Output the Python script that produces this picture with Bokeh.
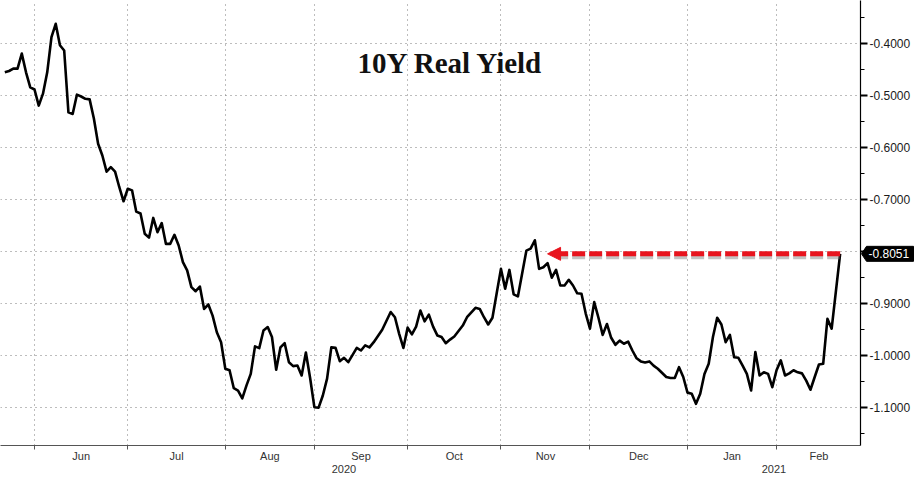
import numpy as np
from bokeh.plotting import figure
from bokeh.models import (Range1d, LinearAxis, FixedTicker, PrintfTickFormatter,
                          Label, Arrow, NormalHead)
from bokeh.core.properties import value
from bokeh.embed import file_html
from bokeh.resources import INLINE

# ---------------- data ----------------
dates = [
    "2020-05-21", "2020-05-22", "2020-05-25", "2020-05-26", "2020-05-27", "2020-05-28", "2020-05-29",
    "2020-06-01", "2020-06-02", "2020-06-03", "2020-06-04", "2020-06-05", "2020-06-08", "2020-06-09",
    "2020-06-10", "2020-06-11", "2020-06-12", "2020-06-15", "2020-06-16", "2020-06-17", "2020-06-18",
    "2020-06-19", "2020-06-22", "2020-06-23", "2020-06-24", "2020-06-25", "2020-06-26", "2020-06-29",
    "2020-06-30", "2020-07-01", "2020-07-02", "2020-07-03", "2020-07-06", "2020-07-07", "2020-07-08",
    "2020-07-09", "2020-07-10", "2020-07-13", "2020-07-14", "2020-07-15", "2020-07-16", "2020-07-17",
    "2020-07-20", "2020-07-21", "2020-07-22", "2020-07-23", "2020-07-24", "2020-07-27", "2020-07-28",
    "2020-07-29", "2020-07-30", "2020-07-31", "2020-08-03", "2020-08-04", "2020-08-05", "2020-08-06",
    "2020-08-07", "2020-08-10", "2020-08-11", "2020-08-12", "2020-08-13", "2020-08-14", "2020-08-17",
    "2020-08-18", "2020-08-19", "2020-08-20", "2020-08-21", "2020-08-24", "2020-08-25", "2020-08-26",
    "2020-08-27", "2020-08-28", "2020-08-31", "2020-09-01", "2020-09-02", "2020-09-03", "2020-09-04",
    "2020-09-07", "2020-09-08", "2020-09-09", "2020-09-10", "2020-09-11", "2020-09-15", "2020-09-16",
    "2020-09-17", "2020-09-18", "2020-09-21", "2020-09-23", "2020-09-25", "2020-09-28", "2020-09-29",
    "2020-09-30", "2020-10-01", "2020-10-02", "2020-10-05", "2020-10-06", "2020-10-07", "2020-10-08",
    "2020-10-09", "2020-10-12", "2020-10-13", "2020-10-14", "2020-10-15", "2020-10-16", "2020-10-20",
    "2020-10-21", "2020-10-23", "2020-10-26", "2020-10-27", "2020-10-28", "2020-10-29", "2020-10-30",
    "2020-11-02", "2020-11-03", "2020-11-04", "2020-11-05", "2020-11-06", "2020-11-10", "2020-11-11",
    "2020-11-12", "2020-11-13", "2020-11-16", "2020-11-17", "2020-11-18", "2020-11-19", "2020-11-20",
    "2020-11-23", "2020-11-24", "2020-11-25", "2020-11-26", "2020-11-27", "2020-11-30", "2020-12-01",
    "2020-12-02", "2020-12-03", "2020-12-04", "2020-12-07", "2020-12-08", "2020-12-09", "2020-12-10",
    "2020-12-11", "2020-12-14", "2020-12-15", "2020-12-16", "2020-12-17", "2020-12-18", "2020-12-21",
    "2020-12-22", "2020-12-23", "2020-12-25", "2020-12-28", "2020-12-29", "2020-12-30", "2020-12-31",
    "2021-01-01", "2021-01-04", "2021-01-05", "2021-01-06", "2021-01-07", "2021-01-08", "2021-01-11",
    "2021-01-12", "2021-01-13", "2021-01-14", "2021-01-15", "2021-01-18", "2021-01-19", "2021-01-20",
    "2021-01-21", "2021-01-22", "2021-01-25", "2021-01-26", "2021-01-27", "2021-01-28", "2021-01-29",
    "2021-02-01", "2021-02-02", "2021-02-03", "2021-02-04", "2021-02-05", "2021-02-08", "2021-02-09",
    "2021-02-10", "2021-02-11", "2021-02-12", "2021-02-15", "2021-02-16", "2021-02-17", "2021-02-18",
    "2021-02-22",
]
real_yield = [
    -0.456, -0.4535, -0.449, -0.449, -0.420, -0.456, -0.485,
    -0.489, -0.520, -0.497, -0.456, -0.3885, -0.3627, -0.404,
    -0.414, -0.533, -0.536, -0.499, -0.5025, -0.507, -0.508,
    -0.545, -0.5935, -0.616, -0.647, -0.6385, -0.647, -0.677,
    -0.704, -0.680, -0.683, -0.724, -0.7275, -0.7665, -0.774,
    -0.736, -0.7635, -0.746, -0.786, -0.786, -0.7685, -0.789,
    -0.821, -0.837, -0.869, -0.877, -0.868, -0.911, -0.9025,
    -0.924, -0.956, -0.975, -1.026, -1.029, -1.0635, -1.068,
    -1.083, -1.058, -1.036, -0.983, -0.9865, -0.9525, -0.946,
    -0.965, -1.028, -0.985, -0.977, -1.0135, -1.021, -1.020,
    -1.039, -0.995, -1.044, -1.100, -1.101, -1.0775, -1.045,
    -0.985, -0.986, -1.0115, -1.005, -1.0135, -0.986, -0.991,
    -0.981, -0.985, -0.975, -0.951, -0.917, -0.927, -0.959,
    -0.986, -0.947, -0.960, -0.945, -0.914, -0.935, -0.922,
    -0.945, -0.962, -0.965, -0.977, -0.970, -0.964, -0.943,
    -0.927, -0.909, -0.911, -0.927, -0.941, -0.928, -0.881,
    -0.834, -0.872, -0.836, -0.883, -0.887, -0.799, -0.795,
    -0.779, -0.834, -0.831, -0.823, -0.851, -0.836, -0.866,
    -0.866, -0.855, -0.866, -0.881, -0.882, -0.920, -0.949,
    -0.898, -0.928, -0.961, -0.940, -0.9665, -0.980, -0.972,
    -0.978, -0.974, -0.991, -1.006, -1.012, -1.014, -1.012,
    -1.020, -1.026, -1.042, -1.044, -1.044, -1.023, -1.042,
    -1.072, -1.074, -1.0935, -1.074, -1.036, -1.0165, -0.965,
    -0.928, -0.941, -0.975, -0.961, -1.004, -1.005, -1.020,
    -1.036, -1.068, -0.994, -1.039, -1.033, -1.036, -1.0615,
    -1.029, -1.010, -1.039, -1.035, -1.029, -1.033, -1.035,
    -1.049, -1.0665, -1.042, -1.018, -1.0165, -0.930, -0.949,
    -0.8051,
]
month_starts = ["2020-06-01", "2020-07-01", "2020-08-01", "2020-09-01", "2020-10-01",
                "2020-11-01", "2020-12-01", "2021-01-01", "2021-02-01", "2021-03-01"]
month_labels = ["Jun", "Jul", "Aug", "Sep", "Oct", "Nov", "Dec", "Jan", "Feb"]
year_labels = ["2020", "2021"]
year_break = "2021-01-01"
y_ticks = [-1.1, -1.0, -0.9, -0.8, -0.7, -0.6, -0.5, -0.4]
y_minor_ticks = [-1.15, -1.05, -0.95, -0.85, -0.75, -0.65, -0.55, -0.45, -0.35]
arrow_tip_date = "2020-11-17"
title_text = "10Y Real Yield"

# ---------------- trading-day axis ----------------
origin = "2020-06-01"
def bday(d):
    return np.busday_count(origin, np.array(d, dtype="datetime64[D]"))

x = bday(dates).astype(float)
bounds = bday(month_starts).astype(float)
mids = [(bounds[i] + bounds[i + 1]) / 2.0 for i in range(len(month_labels))]

FW, FH = 860, 445
X0, X1 = -8.02, 194.8
Y0, Y1 = -1.1737, -0.3179
ppx = FW / (X1 - X0)
ppy = FH / (Y1 - Y0)
brk = float(bday(year_break))
year_pos = [(X0 + brk) / 2.0, (brk + X1) / 2.0]

p = figure(frame_width=FW, frame_height=FH, x_range=Range1d(X0, X1), y_range=Range1d(Y0, Y1),
           y_axis_location="right", toolbar_location=None, output_backend="svg",
           min_border=0, min_border_right=56, title=None, outline_line_color=None,
           background_fill_color="white", border_fill_color="white")

GRID = "#7a7a7a"
last = real_yield[-1]

yax = p.yaxis[0]
yax.ticker = FixedTicker(ticks=y_ticks, minor_ticks=y_minor_ticks)
yax.formatter = PrintfTickFormatter(format="%.4f")
yax.major_label_overrides = {-0.8: ""}
yax.major_tick_out = 7
yax.major_tick_in = 0
yax.minor_tick_out = 4
yax.minor_tick_in = 0
yax.major_tick_line_width = 2
yax.axis_line_color = "black"
yax.axis_line_width = 1.2
yax.major_tick_line_color = "black"
yax.minor_tick_line_color = "black"
yax.major_label_text_font = "Liberation Sans"
yax.major_label_text_font_size = "12px"
yax.major_label_text_color = "#1a1a1a"
yax.major_label_standoff = 2

p.ygrid.ticker = FixedTicker(ticks=y_ticks)
p.ygrid.grid_line_color = GRID
p.ygrid.grid_line_dash = "1 4"
p.xgrid.ticker = FixedTicker(ticks=list(bounds))
p.xgrid.grid_line_color = GRID
p.xgrid.grid_line_dash = "1 4"

xa = p.xaxis[0]
xa.ticker = FixedTicker(ticks=mids, minor_ticks=list(bounds))
xa.major_label_overrides = {m: lab for m, lab in zip(mids, month_labels)}
xa.major_tick_out = 0
xa.major_tick_in = 0
xa.minor_tick_out = 4
xa.minor_tick_in = 0
xa.minor_tick_line_color = "#555555"
xa.axis_line_color = "#555555"
xa.axis_line_width = 1.2
xa.major_label_text_font = "Liberation Sans"
xa.major_label_text_font_size = "11px"
xa.major_label_text_color = "#333333"
xa.major_label_standoff = 0

ya = LinearAxis(ticker=FixedTicker(ticks=year_pos),
                major_label_overrides={yp: lab for yp, lab in zip(year_pos, year_labels)},
                axis_line_color=None, major_tick_line_color=None, minor_tick_line_color=None,
                major_label_text_font="Liberation Sans", major_label_text_font_size="11px",
                major_label_text_color="#333333", major_label_standoff=-6)
p.add_layout(ya, "below")

# series
p.line(x, real_yield, line_color="black", line_width=2.6, line_join="round")

# red dashed arrow from the last value back to the November high (with soft shadow)
x_last = x[-1]
x_tip = float(bday(arrow_tip_date))
p.line([x_last, x_tip + 2.5], [last - 3 / ppy, last - 3 / ppy], line_color="#6a6a6a",
       line_alpha=0.4, line_width=5, line_dash="13 4")
p.add_layout(Arrow(end=NormalHead(size=13, fill_color="#e8141e", line_color="#e8141e"),
                   x_start=x_last, y_start=last, x_end=x_tip, y_end=last,
                   line_color="#e8141e", line_width=5, line_dash="13 4"))

# last-value tag on the axis (black, pointed to the left)
hy = 7.5 / ppy
tag_x = [X1 + 1 / ppx, X1 + 6 / ppx, X1 + 53 / ppx, X1 + 53 / ppx, X1 + 6 / ppx]
tag_y = [last, last + hy, last + hy, last - hy, last - hy]
p.patch(tag_x, tag_y, fill_color="black", line_color="black", level="overlay")
p.text(x=[X1 + 8 / ppx], y=[last], text=[f"{last:.4f}"], text_color="white",
       text_font=value("Liberation Sans"), text_font_size="12px",
       text_baseline="middle", text_align="left", level="overlay")

# title
p.add_layout(Label(x=450, y=383, x_units="screen", y_units="screen", text=title_text,
                   text_align="center", text_baseline="alphabetic", text_font="Liberation Serif",
                   text_font_style="bold", text_font_size="29px", text_color="#111111"))

open("out.html", "w").write(file_html(p, INLINE))
